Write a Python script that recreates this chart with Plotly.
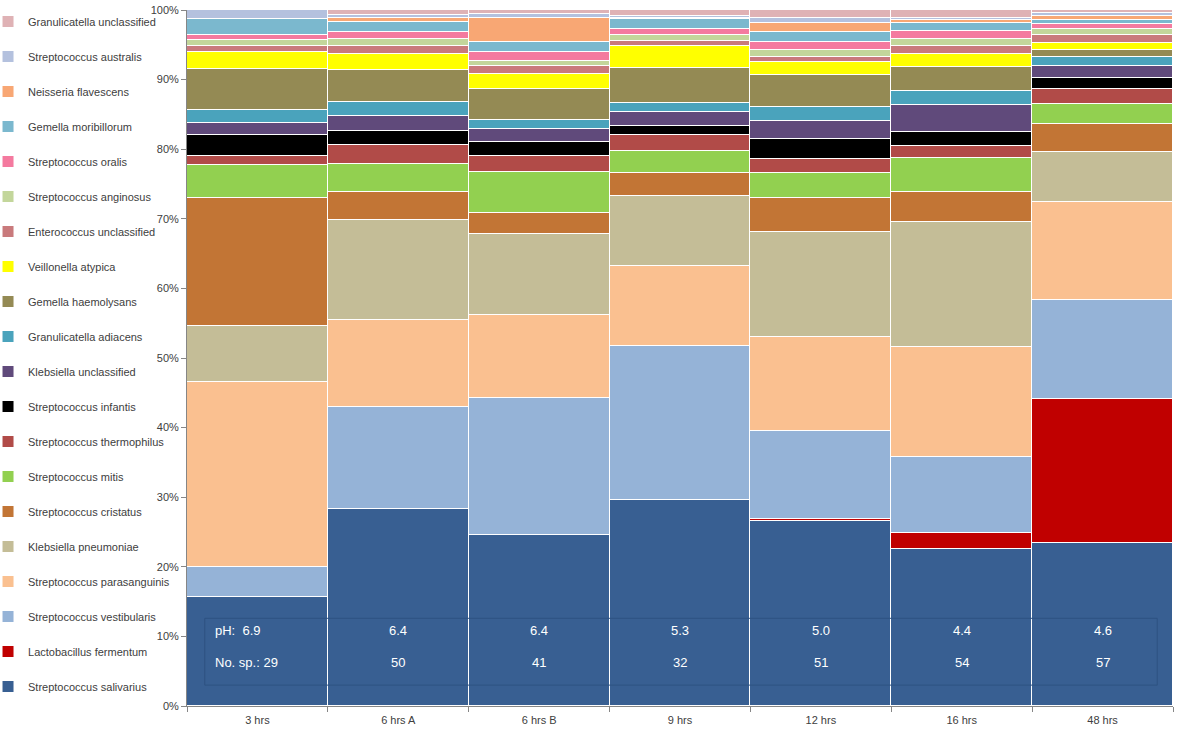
import plotly.graph_objects as go

categories = ["3 hrs", "6 hrs A", "6 hrs B", "9 hrs", "12 hrs", "16 hrs", "48 hrs"]

species = [
    "Streptococcus salivarius", "Lactobacillus fermentum", "Streptococcus vestibularis",
    "Streptococcus parasanguinis", "Klebsiella pneumoniae", "Streptococcus cristatus",
    "Streptococcus mitis", "Streptococcus thermophilus", "Streptococcus infantis",
    "Klebsiella unclassified", "Granulicatella adiacens", "Gemella haemolysans",
    "Veillonella atypica", "Enterococcus unclassified", "Streptococcus anginosus",
    "Streptococcus oralis", "Gemella moribillorum", "Neisseria flavescens",
    "Streptococcus australis", "Granulicatella unclassified",
]

salivarius = [15.7, 28.3, 24.6, 29.6, 26.6, 22.6, 23.4]
fermentum = [0, 0, 0, 0, 0.3, 2.3, 20.7]
vestibularis = [4.3, 14.7, 19.65, 22.1, 12.6, 10.9, 14.2]
parasanguinis = [26.6, 12.5, 11.95, 11.5, 13.5, 15.8, 14.1]
k_pneumoniae = [8.0, 14.3, 11.6, 10.1, 15.1, 17.9, 7.2]
cristatus = [18.4, 4.1, 3.0, 3.3, 4.9, 4.4, 4.0]
mitis = [4.7, 4.0, 5.9, 3.2, 3.6, 4.8, 2.9]
thermophilus = [1.3, 2.7, 2.3, 2.3, 2.0, 1.7, 2.1]
infantis = [3.0, 2.0, 2.1, 1.2, 2.9, 2.1, 1.7]
k_unclassified = [1.7, 2.2, 1.8, 2.0, 2.6, 3.9, 1.7]
g_adiacens = [2.0, 2.0, 1.3, 1.4, 1.9, 1.9, 1.2]
g_haemolysans = [5.8, 4.6, 4.4, 5.0, 4.6, 3.5, 1.0]
veillonella = [2.4, 2.3, 2.2, 3.1, 2.0, 1.9, 1.1]
enterococcus = [0.9, 1.1, 1.1, 0.8, 0.6, 1.1, 1.1]
anginosus = [0.9, 1.1, 0.8, 0.8, 1.0, 1.1, 0.8]
oralis = [0.7, 1.0, 1.2, 0.9, 1.2, 1.1, 0.8]
moribillorum = [2.3, 1.4, 1.5, 1.4, 1.5, 1.2, 0.6]
neisseria = [0, 0.6, 3.5, 0.1, 1.3, 0.3, 0.5]
australis = [1.3, 0.4, 0.5, 0.3, 0.6, 0.3, 0.4]
g_unclassified = [0, 0.7, 0.6, 0.9, 1.2, 1.2, 0.5]

ph_values = ["6.9", "6.4", "6.4", "5.3", "5.0", "4.4", "4.6"]
n_species = ["29", "50", "41", "32", "51", "54", "57"]

series = [salivarius, fermentum, vestibularis, parasanguinis, k_pneumoniae, cristatus,
          mitis, thermophilus, infantis, k_unclassified, g_adiacens, g_haemolysans,
          veillonella, enterococcus, anginosus, oralis, moribillorum, neisseria,
          australis, g_unclassified]

colors = ["#385F92", "#C00000", "#95B3D7", "#FAC090", "#C4BD97", "#C27535",
          "#92D050", "#B14B48", "#000000", "#604A7B", "#4AA3BC", "#948A54",
          "#FFFF00", "#C97A7C", "#C3D69B", "#F47A9F", "#7BB8CE", "#F8A774",
          "#B4C1DE", "#DFB2B5"]

FONT = "Liberation Sans, Arial, sans-serif"

fig = go.Figure()
n = len(species)
for i, (name, vals, col) in enumerate(zip(species, series, colors)):
    fig.add_trace(go.Bar(
        x=categories,
        y=[v if v else None for v in vals],
        name=name,
        legendgroup=f"g{i}",
        legendrank=n - i,
        marker=dict(color=col, line=dict(color="white", width=1)),
    ))

# pH / number of species labels
for j, cat in enumerate(categories):
    if j == 0:
        fig.add_annotation(x=0.026, xref="paper", y=10.9, yref="y",
                           text="pH:  " + ph_values[j], showarrow=False,
                           xanchor="left", font=dict(color="white", size=13, family=FONT))
        fig.add_annotation(x=0.026, xref="paper", y=6.3, yref="y",
                           text="No. sp.: " + n_species[j], showarrow=False,
                           xanchor="left", font=dict(color="white", size=13, family=FONT))
    else:
        fig.add_annotation(x=cat, y=10.9, text=ph_values[j], showarrow=False,
                           font=dict(color="white", size=13, family=FONT))
        fig.add_annotation(x=cat, y=6.3, text=n_species[j], showarrow=False,
                           font=dict(color="white", size=13, family=FONT))

fig.add_shape(type="rect", xref="paper", yref="y", x0=0.018, x1=0.984, y0=3.0, y1=12.6,
              line=dict(color="#2E5282", width=1), fillcolor="rgba(0,0,0,0)")

fig.update_layout(
    width=1200, height=741,
    barmode="stack", bargap=0,
    paper_bgcolor="white", plot_bgcolor="white",
    margin=dict(l=187, r=27, t=10, b=35, autoexpand=False),
    font=dict(family=FONT, size=11, color="#404040"),
    showlegend=True,
    legend=dict(
        xref="paper", yref="paper", x=-0.2018, y=1.0043,
        xanchor="left", yanchor="top",
        traceorder="grouped", tracegroupgap=16,
        font=dict(size=11, color="#404040", family=FONT),
        itemwidth=30, maxheight=741,
        bgcolor="rgba(0,0,0,0)",
    ),
    xaxis=dict(showline=True, linecolor="#868686", ticks="outside", tickson="boundaries",
               tickcolor="#868686", ticklen=5, showgrid=False, ticklabelstandoff=4,
               tickfont=dict(size=11, color="#404040")),
    yaxis=dict(range=[0, 100], dtick=10, ticksuffix="%", showline=True, linecolor="#868686",
               ticks="outside", tickcolor="#868686", ticklen=5, showgrid=False, zeroline=False,
               ticklabeloverflow="allow",
               tickfont=dict(size=11, color="#404040")),
)

fig.write_html("out.html", config={"displayModeBar": False},
               post_script="document.body.style.margin='0';")
